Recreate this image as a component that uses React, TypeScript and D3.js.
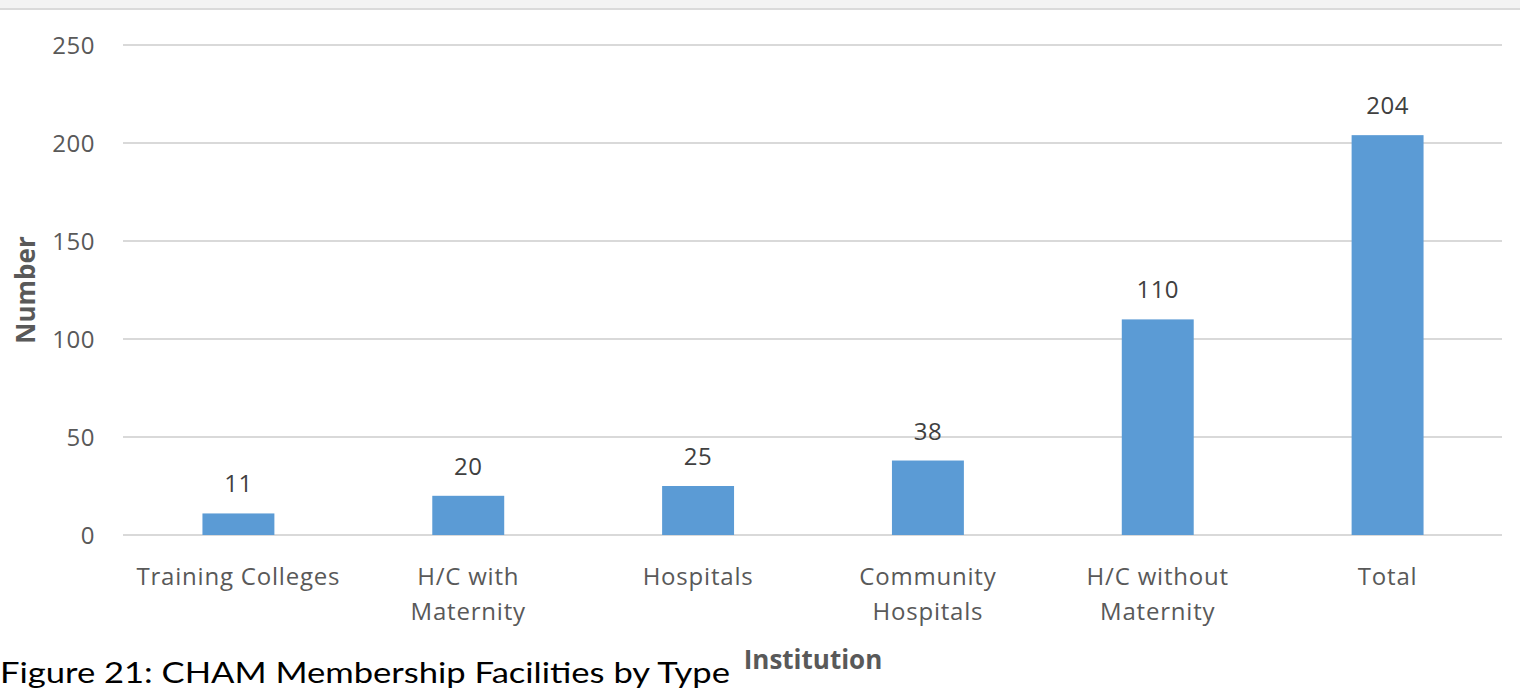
import React from "react";
import * as d3 from "d3";

const categories: string[][] = [
  ["Training Colleges"],
  ["H/C with", "Maternity"],
  ["Hospitals"],
  ["Community", "Hospitals"],
  ["H/C without", "Maternity"],
  ["Total"],
];
const values: number[] = [11, 20, 25, 38, 110, 204];
const yTicks: number[] = [0, 50, 100, 150, 200, 250];
const yTitle = "Number";
const xTitle = "Institution";
const caption = "Figure 21: CHAM Membership Facilities by Type";

export default function App() {
  const W = 1520, H = 689;
  const left = 123, right = 1502, top = 45, bottom = 535;
  const keys = categories.map((c) => c.join(" "));
  const x = d3.scaleBand<string>().domain(keys).range([left, right]).padding(0);
  const y = d3.scaleLinear().domain([0, 250]).range([bottom, top]);
  const barW = x.bandwidth() * 0.313;
  const font = "'Open Sans', sans-serif";
  const grey = "#595959";
  return (
    <svg width={W} height={H} style={{ position: "absolute", left: 0, top: 0, background: "#fff" }}>
      <rect x={0} y={0} width={W} height={8} fill="#f3f3f3" />
      <rect x={0} y={8} width={W} height={2} fill="#dadada" />
      {yTicks.map((t) => (
        <g key={t}>
          <line x1={left} x2={right} y1={y(t)} y2={y(t)} stroke="#d9d9d9" strokeWidth={2} />
          <text x={95} y={y(t)} dy="0.36em" textAnchor="end" fontFamily={font} fontSize={24} letterSpacing={0.5} fill={grey}>
            {t}
          </text>
        </g>
      ))}
      {values.map((v, i) => {
        const cx = x(keys[i])! + x.bandwidth() / 2 + 0.5;
        return (
          <g key={i}>
            <rect x={cx - barW / 2} y={y(v)} width={barW} height={y(0) - y(v)} fill="#5b9bd5" />
            <text x={cx} y={y(v) - 21} textAnchor="middle" fontFamily={font} fontSize={24} letterSpacing={0.5} fill="#404040">
              {v}
            </text>
            {categories[i].map((line, j) => (
              <text key={j} x={cx} y={585 + j * 35} textAnchor="middle" fontFamily={font} fontSize={24} letterSpacing={0.8} fill={grey}>
                {line}
              </text>
            ))}
          </g>
        );
      })}
      <text
        transform={`translate(35, ${(top + bottom) / 2}) rotate(-90)`}
        textAnchor="middle"
        fontFamily={font}
        fontWeight="bold"
        fontSize={26}
        fill={grey}
      >
        {yTitle}
      </text>
      <text x={813} y={669} textAnchor="middle" fontFamily={font} fontWeight="bold" fontSize={26} fill={grey}>
        {xTitle}
      </text>
      <text x={0} y={683} fontFamily="'Lato', sans-serif" fontWeight={400} fontSize={29} fill="#000" textLength={730} lengthAdjust="spacingAndGlyphs">
        {caption}
      </text>
    </svg>
  );
}
